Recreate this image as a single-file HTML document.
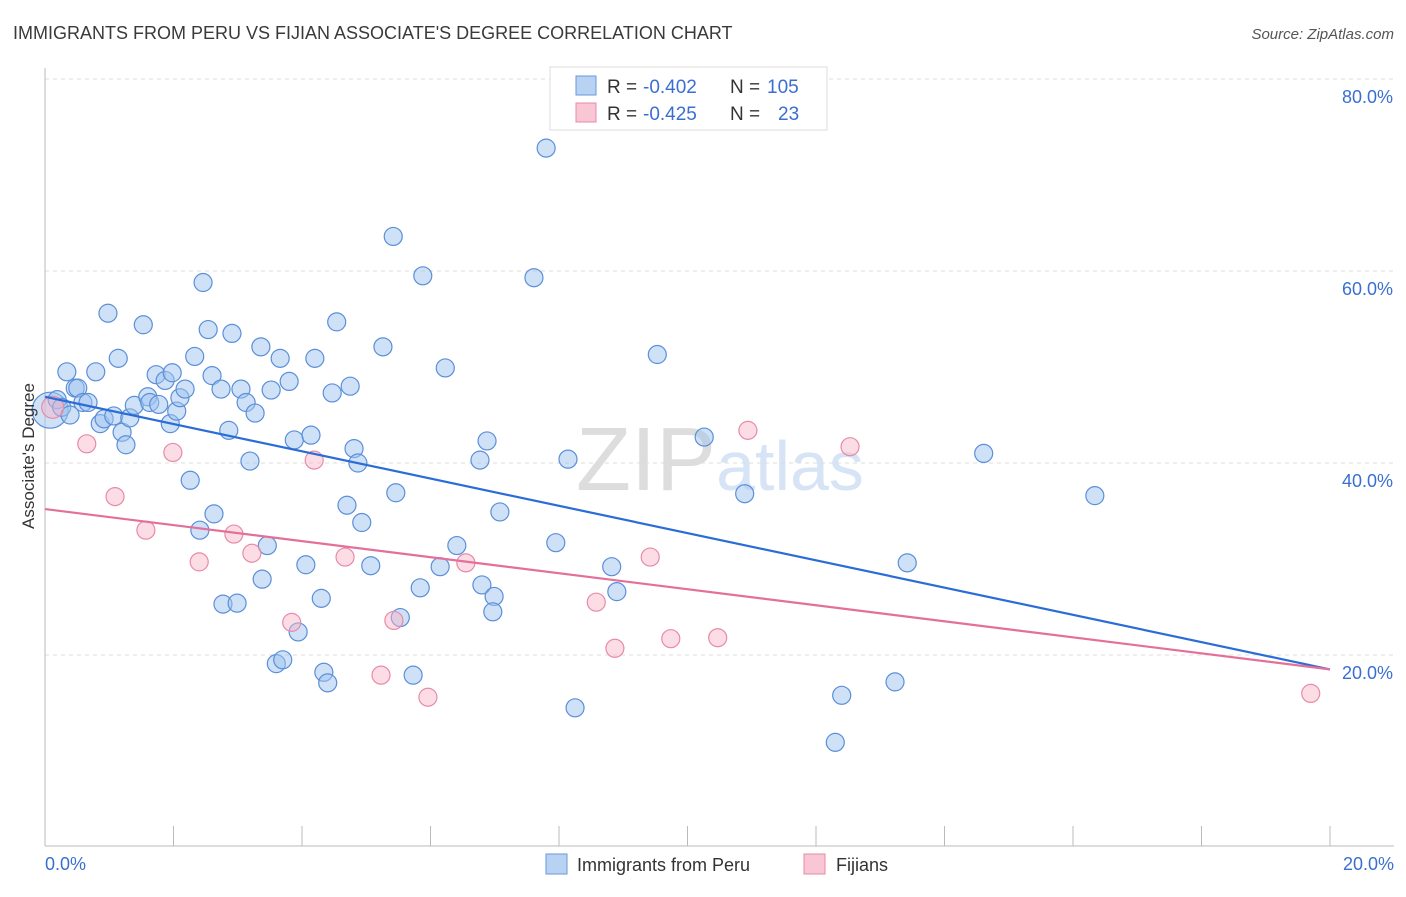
<!DOCTYPE html>
<html><head><meta charset="utf-8"><style>
body{margin:0;background:#fff;font-family:"Liberation Sans",sans-serif;}
svg text{font-family:"Liberation Sans",sans-serif;}
</style></head><body>
<svg id="chart" width="1406" height="892" xmlns="http://www.w3.org/2000/svg">
<text x="13" y="39" font-size="18" fill="#3a3a3a">IMMIGRANTS FROM PERU VS FIJIAN ASSOCIATE'S DEGREE CORRELATION CHART</text>
<text x="1394" y="39" font-size="15" fill="#555" text-anchor="end" font-style="italic">Source: ZipAtlas.com</text>
<text x="720" y="490" font-size="90" fill="#e4e4e4" text-anchor="middle" font-family="Liberation Serif"><tspan fill="#ddd">ZIP</tspan><tspan fill="#d6e4f6" font-family="Liberation Sans" font-size="70">atlas</tspan></text>
<g id="grid"></g>
<g id="axes"></g>
<g id="marks"></g>
<text transform="translate(34,456) rotate(-90)" font-size="17" fill="#333" text-anchor="middle">Associate's Degree</text>
<g>
<rect x="550" y="67" width="277" height="63" fill="#fff" stroke="#ddd"/>
<rect x="576" y="76" width="20" height="19" fill="#b8d2f3" stroke="#6a9ad8"/>
<text x="607" y="93" font-size="19" fill="#333">R =</text>
<text x="643" y="93" font-size="19" fill="#3a6fd1">-0.402</text>
<text x="730" y="93" font-size="19" fill="#333">N =</text>
<text x="767" y="93" font-size="19" fill="#3a6fd1">105</text>
<rect x="576" y="103" width="20" height="19" fill="#f8c6d4" stroke="#e88aa8"/>
<text x="607" y="120" font-size="19" fill="#333">R =</text>
<text x="643" y="120" font-size="19" fill="#3a6fd1">-0.425</text>
<text x="730" y="120" font-size="19" fill="#333">N =</text>
<text x="778" y="120" font-size="19" fill="#3a6fd1">23</text>
</g>
<g>
<rect x="546" y="854" width="21" height="20" fill="#b8d2f3" stroke="#6a9ad8"/>
<text x="577" y="871" font-size="18" fill="#333">Immigrants from Peru</text>
<rect x="804" y="854" width="21" height="20" fill="#f8c6d4" stroke="#e88aa8"/>
<text x="836" y="871" font-size="18" fill="#333">Fijians</text>
</g>
</svg>
<script>
const blueX=[0.08,0.19,0.26,0.34,0.39,0.47,0.51,0.59,0.67,0.79,0.86,0.92,0.98,1.07,1.14,1.20,1.26,1.32,1.39,1.53,1.60,1.63,1.73,1.77,1.87,1.95,1.98,2.05,2.10,2.18,2.26,2.33,2.41,2.46,2.54,2.60,2.63,2.74,2.77,2.86,2.91,2.99,3.05,3.13,3.19,3.27,3.36,3.38,3.46,3.52,3.66,3.60,3.70,3.80,3.88,3.94,4.06,4.14,4.20,4.30,4.34,4.40,4.47,4.54,4.70,4.75,4.81,4.87,4.93,5.07,5.26,5.42,5.46,5.53,5.73,5.84,5.88,6.15,6.23,6.41,6.77,6.80,6.88,6.99,6.97,7.08,7.61,7.80,7.95,8.14,8.25,8.82,8.90,9.53,10.26,10.89,12.30,12.40,13.23,13.42,14.61,16.34];
const blueY=[45.5,46.6,45.8,49.5,45.0,47.8,47.8,46.3,46.3,49.5,44.1,44.6,55.6,44.9,50.9,43.2,41.9,44.7,46.0,54.4,46.9,46.3,49.2,46.1,48.6,44.1,49.4,45.4,46.8,47.7,38.2,51.1,33.0,58.8,53.9,49.1,34.7,47.7,25.3,43.4,53.5,25.4,47.7,46.3,40.2,45.2,52.1,27.9,31.4,47.6,50.9,19.1,19.5,48.5,42.4,22.4,29.4,42.9,50.9,25.9,18.2,17.1,47.3,54.7,35.6,48.0,41.5,40.0,33.8,29.3,52.1,63.6,36.9,23.9,17.9,27.0,59.5,29.2,49.9,31.4,40.3,27.3,42.3,26.1,24.5,34.9,59.3,72.8,31.7,40.4,14.5,29.2,26.6,51.3,42.7,36.8,10.9,15.8,17.2,29.6,41.0,36.6];
const pinkX=[0.12,0.65,1.09,1.57,1.99,2.40,2.94,3.22,3.84,4.19,4.67,5.23,5.43,5.96,6.55,8.58,8.87,9.42,9.74,10.47,10.94,12.53,19.70];
const pinkY=[45.8,42.0,36.5,33.0,41.1,29.7,32.6,30.6,23.4,40.3,30.2,17.9,23.6,15.6,29.6,25.5,20.7,30.2,21.7,21.8,43.4,41.7,16.0];
const blueTrend=[46.9,18.5];
const pinkTrend=[35.2,18.5];
const yTicks=[20,40,60,80];
const xTickLabels=["0.0%","20.0%"];
const NS="http://www.w3.org/2000/svg";
const X=v=>45+v/20*1285, Y=v=>847-v*9.6;
function mk(tag,attrs,parent){const e=document.createElementNS(NS,tag);for(const k in attrs)e.setAttribute(k,attrs[k]);parent.appendChild(e);return e;}
const grid=document.getElementById('grid'),axes=document.getElementById('axes'),marks=document.getElementById('marks');
yTicks.forEach(t=>{
 const l=mk('line',{x1:45,x2:1394,y1:Y(t),y2:Y(t),stroke:'#ddd','stroke-dasharray':'4,4'},grid);
 
 
 const tx=mk('text',{x:1393,y:Y(t)+24,'font-size':18,fill:'#3a6fd1','text-anchor':'end'},axes);
 tx.textContent=t.toFixed(1)+'%';
 
 
});
const a1=mk('line',{x1:45,x2:45,y1:68,y2:846,stroke:'#bbb'},axes);


const a2=mk('line',{x1:45,x2:1394,y1:846,y2:846,stroke:'#bbb'},axes);


for(let i=0;i<=10;i++){const t=mk('line',{x1:X(i*2),x2:X(i*2),y1:826,y2:846,stroke:'#bbb'},axes);
 
 }
xTickLabels.forEach((s,i)=>{const t=mk('text',{x:i?1394:45,y:870,'font-size':18,fill:'#3a6fd1','text-anchor':i?'end':'start'},axes);t.textContent=s;
 
 });
blueX.forEach((x,i)=>{const c=mk('circle',{cx:X(x),cy:Y(blueY[i]),r:i==0?18:9,fill:'rgba(160,196,240,0.5)',stroke:'#5b8fd9','stroke-width':1.2},marks);
 
 });
pinkX.forEach((x,i)=>{const c=mk('circle',{cx:X(x),cy:Y(pinkY[i]),r:i==0?11:9,fill:'rgba(248,180,200,0.45)',stroke:'#e88aa8','stroke-width':1.2},marks);
 
 });
const bl=mk('line',{x1:X(0),y1:Y(blueTrend[0]),x2:X(20),y2:Y(blueTrend[1]),stroke:'#2a6dd6','stroke-width':2.2},marks);


const pl=mk('line',{x1:X(0),y1:Y(pinkTrend[0]),x2:X(20),y2:Y(pinkTrend[1]),stroke:'#e3709a','stroke-width':2.2},marks);


</script>
</body></html>
